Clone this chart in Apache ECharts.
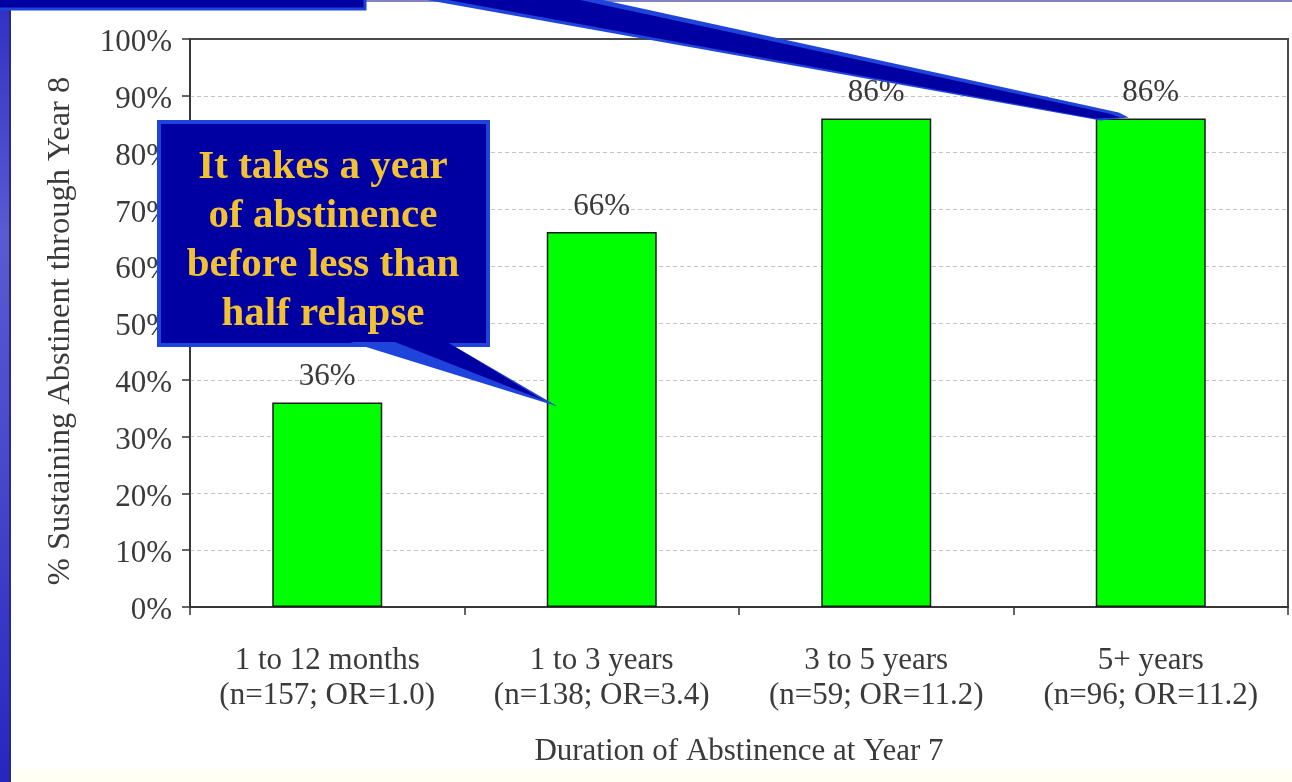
<!DOCTYPE html>
<html>
<head>
<meta charset="utf-8">
<script src="https://cdn.jsdelivr.net/npm/echarts@6/dist/echarts.min.js"></script>
<style>
  html, body { margin: 0; padding: 0; background: #ffffff; overflow: hidden; }
  #chart { width: 1292px; height: 782px; }
</style>
</head>
<body>
<div id="chart"></div>
<script>
// Duration of abstinence groups (x axis)
const categories = [
  '1 to 12 months\n(n=157; OR=1.0)',
  '1 to 3 years\n(n=138; OR=3.4)',
  '3 to 5 years\n(n=59; OR=11.2)',
  '5+ years\n(n=96; OR=11.2)'
];
// Percent still abstinent through year 8
const abstinentPct = [36, 66, 86, 86];

// Value axis range and tick step
const yMin = 0;
const yMax = 100;
const yStep = 10;

const xAxisTitle = 'Duration of Abstinence at Year 7';
const yAxisTitle = '% Sustaining Abstinent through Year 8';
const calloutText = 'It takes a year\nof abstinence\nbefore less than\nhalf relapse';

const SERIF = '"Liberation Serif", "Times New Roman", serif';
const TEXT = '#3a3a3a';

const chart = echarts.init(document.getElementById('chart'), null, { renderer: 'canvas' });

chart.setOption({
  animation: false,
  backgroundColor: '#ffffff',
  grid: {
    left: 190, right: 4, top: 39, bottom: 175,
    show: true, borderColor: '#4a4a4a', borderWidth: 2, backgroundColor: 'transparent'
  },
  xAxis: {
    type: 'category',
    data: categories,
    axisLine: { lineStyle: { color: '#333', width: 1.5 } },
    axisTick: { show: true, length: 8, lineStyle: { color: '#333', width: 1.5 } },
    axisLabel: { interval: 0, margin: 36, fontSize: 31, lineHeight: 35, fontFamily: SERIF, color: TEXT },
    name: xAxisTitle,
    nameLocation: 'middle',
    nameGap: 129,
    nameTextStyle: { fontSize: 31, fontFamily: SERIF, color: TEXT }
  },
  yAxis: {
    type: 'value',
    min: yMin, max: yMax, interval: yStep,
    axisLine: { show: true, lineStyle: { color: '#333', width: 1.5 } },
    axisTick: { show: true, length: 8, lineStyle: { color: '#333', width: 1.5 } },
    axisLabel: {
      formatter: '{p|{value}%}', margin: 18,
      rich: { p: { fontSize: 31, fontFamily: SERIF, color: TEXT, padding: [8, 0, 0, 0] } }
    },
    splitLine: {
      show: true, showMinLine: false, showMaxLine: false,
      lineStyle: { color: '#c4c4c4', width: 1, type: [4, 3] }
    },
    name: yAxisTitle,
    nameLocation: 'middle',
    nameGap: 113,
    nameRotate: 90,
    nameTextStyle: { fontSize: 32.5, fontFamily: SERIF, color: TEXT, padding: [0, 16, 0, 0] }
  },
  series: [{
    type: 'bar',
    data: abstinentPct,
    barWidth: 110,
    itemStyle: { color: '#00ff00', borderColor: '#1a1a1a', borderWidth: 1.5 },
    label: {
      show: true, position: 'top', distance: 10,
      formatter: '{c}%', fontSize: 31, fontFamily: SERIF, color: TEXT
    }
  }]
});

// Callout pointers are anchored to the bars they point at
const topTip = chart.convertToPixel({ seriesIndex: 0 }, [3, abstinentPct[3]]);
const lowTip = chart.convertToPixel({ seriesIndex: 0 }, [1, abstinentPct[0]]);
const tA = [topTip[0] - 22, topTip[1] - 1];
const tB = [lowTip[0] - 44, lowTip[1] + 4];

const LIGHT_BLUE = '#1f44dc';
const DARK_BLUE = '#0000a2';

chart.setOption({
  graphic: [
    // slide frame: pale strip at the bottom, blue bar on the left, thin rule on top
    { type: 'rect', z: 0, shape: { x: 0, y: 769, width: 1292, height: 13 }, style: { fill: '#fffff3' } },
    { type: 'rect', z: 100, shape: { x: 0, y: 0, width: 10, height: 782 },
      style: { fill: new echarts.graphic.LinearGradient(0, 0, 0, 1, [
        { offset: 0, color: '#3030c4' }, { offset: 0.3, color: '#5a5ad2' },
        { offset: 0.6, color: '#4848cc' }, { offset: 1, color: '#2626c0' }]) } },
    { type: 'rect', z: 100, shape: { x: 9, y: 0, width: 2, height: 782 }, style: { fill: '#2a2a78' } },
    { type: 'rect', z: 100, shape: { x: 0, y: 0, width: 1292, height: 2 }, style: { fill: '#8282c4' } },
    // upper callout (box above the chart) and its long pointer
    { type: 'polygon', z: 101, shape: { points: [
        [427, 0], [603, 0], [tA[0] - 10, tA[1] - 5], tA, [tA[0] - 28, tA[1] + 3]] },
      style: { fill: LIGHT_BLUE } },
    { type: 'polygon', z: 102, shape: { points: [
        [448, 0], [580, 0], [tA[0] - 20, tA[1] - 4], [tA[0] - 8, tA[1]], [tA[0] - 34, tA[1] + 1]] },
      style: { fill: DARK_BLUE } },
    { type: 'rect', z: 103, shape: { x: -6, y: -6, width: 371, height: 15 },
      style: { fill: DARK_BLUE, stroke: LIGHT_BLUE, lineWidth: 3 } },
    // lower callout box with its pointer
    { type: 'rect', z: 104, shape: { x: 159, y: 122, width: 329, height: 223 },
      style: { fill: DARK_BLUE, stroke: LIGHT_BLUE, lineWidth: 4 } },
    { type: 'polygon', z: 105, shape: { points: [[350, 342], [447, 342], tB] }, style: { fill: LIGHT_BLUE } },
    { type: 'polygon', z: 106, shape: { points: [[395, 342], [447, 342], [tB[0] - 14, tB[1] - 6]] }, style: { fill: DARK_BLUE } },
    { type: 'text', z: 107, style: {
        text: calloutText, x: 323, y: 241, align: 'center', verticalAlign: 'middle',
        fontSize: 41, fontWeight: 'bold', fontFamily: SERIF, lineHeight: 49, fill: '#f2c233' } }
  ]
});
</script>
</body>
</html>
